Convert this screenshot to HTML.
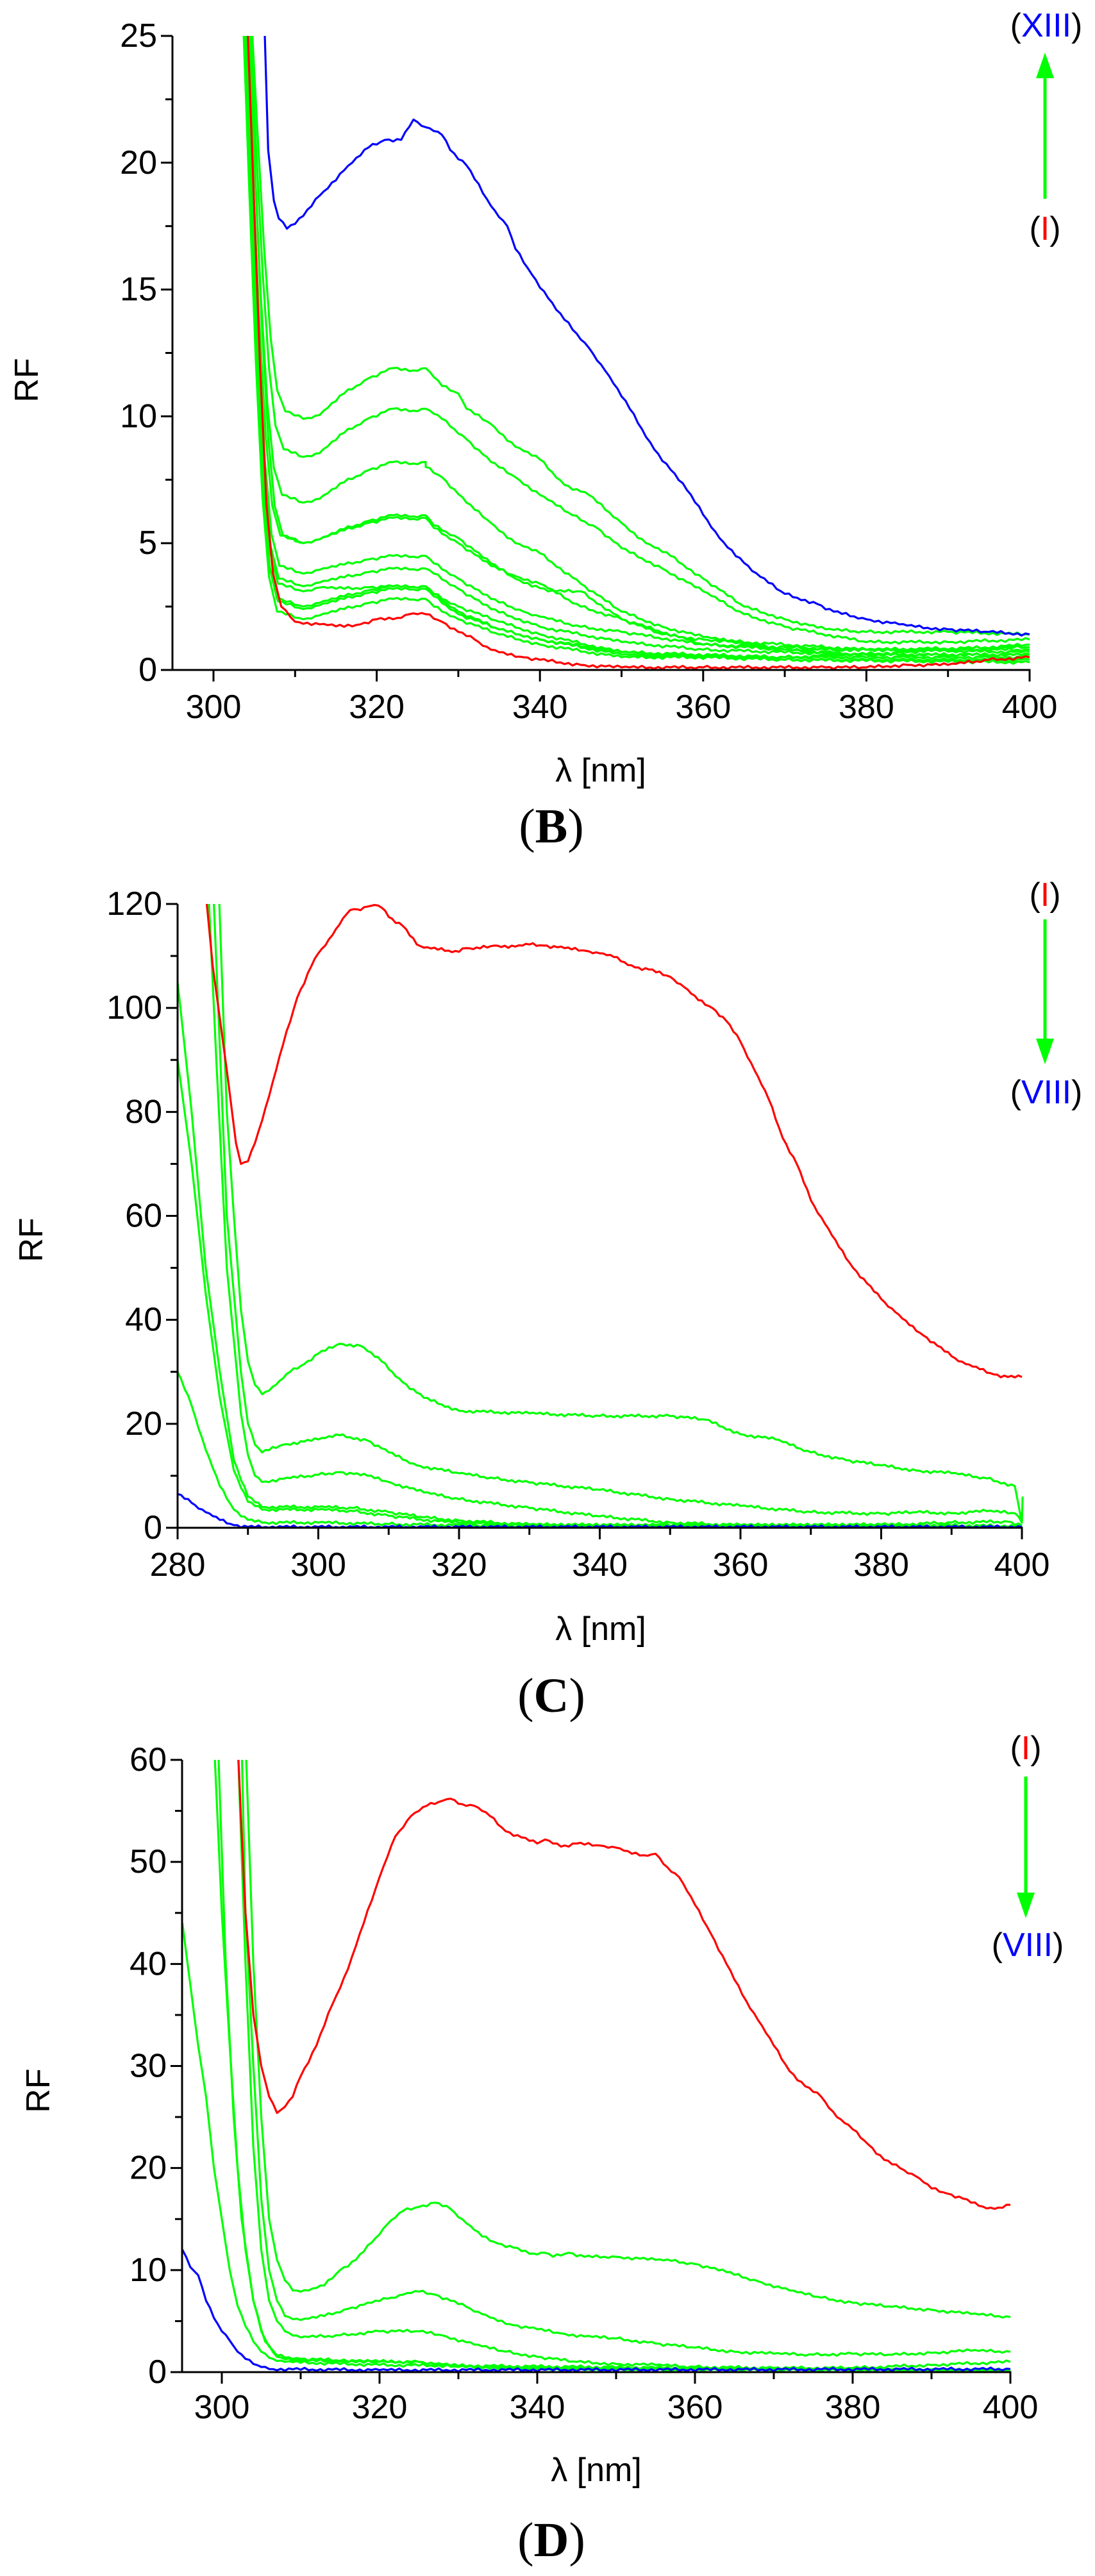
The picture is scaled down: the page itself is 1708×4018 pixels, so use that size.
<!DOCTYPE html>
<html><head><meta charset="utf-8">
<style>
html,body{margin:0;padding:0;background:#fff;}
svg{display:block;}
.s{font-family:"Liberation Sans",Arial,sans-serif;}
.f{font-family:"Liberation Serif","Times New Roman",serif;}
</style></head>
<body>
<svg id="s" width="1708" height="4018" viewBox="0 0 1708 4018" xmlns="http://www.w3.org/2000/svg">
<rect width="1708" height="4018" fill="#fff"/>
<g id="g"></g>
<g class="s" font-size="52" fill="#000">
<text x="42" y="593" transform="rotate(-90 42 593)" text-anchor="middle" dominant-baseline="central">RF</text>
<text x="937" y="1202" text-anchor="middle" dominant-baseline="central">λ [nm]</text>
<text x="1632" y="40" text-anchor="middle" dominant-baseline="central">(<tspan fill="#0000ff">XIII</tspan>)</text>
<text x="1630" y="357" text-anchor="middle" dominant-baseline="central">(<tspan fill="#ff0000">I</tspan>)</text>

<text x="49" y="1934" transform="rotate(-90 49 1934)" text-anchor="middle" dominant-baseline="central">RF</text>
<text x="937" y="2541" text-anchor="middle" dominant-baseline="central">λ [nm]</text>
<text x="1630" y="1396" text-anchor="middle" dominant-baseline="central">(<tspan fill="#ff0000">I</tspan>)</text>
<text x="1632" y="1704" text-anchor="middle" dominant-baseline="central">(<tspan fill="#0000ff">VIII</tspan>)</text>

<text x="60" y="3261" transform="rotate(-90 60 3261)" text-anchor="middle" dominant-baseline="central">RF</text>
<text x="930" y="3853" text-anchor="middle" dominant-baseline="central">λ [nm]</text>
<text x="1600" y="2727" text-anchor="middle" dominant-baseline="central">(<tspan fill="#ff0000">I</tspan>)</text>
<text x="1603" y="3034" text-anchor="middle" dominant-baseline="central">(<tspan fill="#0000ff">VIII</tspan>)</text>
</g>
<g class="f" font-size="76" fill="#000" text-anchor="middle">
<text class="f" x="860" y="1314">(<tspan font-weight="bold">B</tspan>)</text>
<text class="f" x="860" y="2670">(<tspan font-weight="bold">C</tspan>)</text>
<text class="f" x="860" y="3987">(<tspan font-weight="bold">D</tspan>)</text>
</g>
<g stroke="#00ff00" stroke-width="5" fill="#00ff00">
<line x1="1630" y1="310" x2="1630" y2="118"/>
<polygon points="1630,82 1616,122 1644,122" stroke="none"/>
<line x1="1630" y1="1434" x2="1630" y2="1620"/>
<polygon points="1630,1660 1616,1620 1644,1620" stroke="none"/>
<line x1="1600" y1="2771" x2="1600" y2="2952"/>
<polygon points="1600,2992 1586,2952 1614,2952" stroke="none"/>
</g>
</svg>
<script>
var NS="http://www.w3.org/2000/svg",G=document.getElementById('g');
function el(t,a,p){var e=document.createElementNS(NS,t);for(var k in a)e.setAttribute(k,a[k]);(p||G).appendChild(e);return e;}
function txt(x,y,s,anchor){var e=el('text',{x:x,y:y,'class':'s','font-size':52,'text-anchor':anchor,'dominant-baseline':'central',fill:'#000'});e.textContent=s;}
function panel(P){
  var X=function(v){return P.x0+(v-P.xa)*(P.x1-P.x0)/(P.xb-P.xa);};
  var Y=function(v){return P.y0-(v)*(P.y0-P.y1)/P.ymax;};
  var id='c'+P.name;
  var d=el('clipPath',{id:id});el('rect',{x:P.ax,y:P.y1,width:X(P.xb)-P.ax+4,height:P.y0-P.y1},d);
  var g=el('g',{'clip-path':'url(#'+id+')'});
  P.curves.forEach(function(c){
    var pts=[],k=c.p;
    for(var i=0;i<k.length-1;i++){
      var a=k[i],b=k[i+1],n=Math.max(1,Math.round((b[0]-a[0])*2));
      var steep=Math.abs(b[1]-a[1])/(b[0]-a[0])>0.05*P.ymax;
      for(var j=0;j<n;j++){var t=j/n;var v=a[1]+(b[1]-a[1])*t;
        var jit=steep?0:(j%2?1:-1)*0.0025*P.ymax*((i*7+j*3)%5/4);
        pts.push(X(a[0]+(b[0]-a[0])*t).toFixed(1)+','+Y(Math.max(0,v+(j?jit:0))).toFixed(1));}
    }
    var l=k[k.length-1];pts.push(X(l[0]).toFixed(1)+','+Y(l[1]).toFixed(1));
    el('polyline',{points:pts.join(' '),fill:'none',stroke:c.c,'stroke-width':3.2,'stroke-linejoin':'round'},g);
  });
  el('line',{x1:P.ax,y1:P.y1,x2:P.ax,y2:P.y0+1.5,stroke:'#000','stroke-width':3});
  el('line',{x1:P.ax,y1:P.y0,x2:X(P.xb)+1.5,y2:P.y0,stroke:'#000','stroke-width':3});
  for(var v=0;v<=P.ymax+1e-9;v+=P.ym/2){
    var maj=Math.abs(v/P.ym-Math.round(v/P.ym))<1e-6;
    el('line',{x1:P.ax-(maj?18:11),y1:Y(v),x2:P.ax,y2:Y(v),stroke:'#000','stroke-width':3});
    if(maj)txt(P.ax-24,Y(v),String(Math.round(v)),'end');
  }
  for(var v=P.xt0;v<=P.xb;v+=10){
    var maj=(v%20)==0;
    el('line',{x1:X(v),y1:P.y0,x2:X(v),y2:P.y0+(maj?18:11),stroke:'#000','stroke-width':3});
    if(maj)txt(X(v),P.xl,String(v),'middle');
  }
}
var GR='#00ff00',RD='#ff0000',BL='#0000ff';
function bump(s,min,peak,tail){
  var r=26-min;
  return [[s,26],[s+0.8,min+r*0.7],[s+1.6,min+r*0.42],[s+2.4,min+r*0.2],[s+3.2,min+r*0.07],[s+4.2,min+0.3],[Math.max(s+5,311),min],[313,min+0.15],[316,min+(peak-min)*0.5],[319,min+(peak-min)*0.8],[322,peak],[324,peak*0.99],[326,peak]].concat(tail);
}
panel({name:'B',x0:333,x1:1606,xa:300,xb:400,ax:269,y0:1045,y1:56,ymax:25,ym:5,xt0:300,xl:1103,curves:[
 {c:GR,p:bump(304.6,9.9,11.9,[[328,11.2],[330,10.9],[331,10.3],[334,9.7],[337,8.8],[340,8.3],[343,7.3],[346,6.9],[350,5.8],[353,5.0],[356,4.5],[360,3.6],[365,2.5],[370,2.0],[375,1.6],[380,1.5],[390,1.5],[400,1.4]])},
 {c:GR,p:bump(304.4,8.4,10.3,[[328,9.9],[331,9.1],[334,8.2],[337,7.6],[340,6.9],[344,6.1],[347,5.6],[350,4.8],[355,4.0],[360,3.1],[365,2.2],[370,1.7],[380,1.1],[390,1.1],[400,1.2]])},
 {c:GR,p:bump(304.2,6.6,8.2,[[326,8.0],[328,7.6],[331,6.6],[334,5.8],[337,5.0],[340,4.6],[345,3.4],[350,2.3],[355,1.7],[360,1.3],[370,0.8],[380,0.8],[400,0.9]])},
 {c:GR,p:bump(304.0,5.0,6.0,[[327,5.6],[330,5.0],[334,4.1],[337,3.7],[340,3.4],[345,2.5],[350,2.0],[355,1.4],[360,1.2],[380,0.8],[400,0.8]])},
 {c:GR,p:bump(304.3,5.0,6.1,[[327,5.7],[330,5.2],[334,4.2],[337,3.6],[341,3.1],[345,3.1],[350,2.0],[360,1.0],[380,0.6],[400,0.6]])},
 {c:GR,p:bump(303.9,3.8,4.5,[[327,4.2],[330,3.6],[334,2.8],[338,2.3],[340,2.1],[345,1.7],[350,1.5],[360,1.0],[380,0.8],[400,0.7]])},
 {c:GR,p:bump(303.8,3.3,4.0,[[327,3.8],[330,3.2],[334,2.4],[340,1.7],[350,1.1],[360,0.8],[380,0.6],[400,0.6]])},
 {c:GR,p:bump(303.7,3.1,3.3,[[327,3.0],[330,2.5],[335,1.9],[340,1.4],[350,0.7],[370,0.5],[400,0.5]])},
 {c:GR,p:bump(303.6,2.5,3.3,[[327,3.0],[330,2.3],[335,1.6],[340,1.2],[350,0.6],[370,0.4],[400,0.4]])},
 {c:GR,p:bump(303.7,2.4,3.2,[[327,2.9],[330,2.2],[335,1.6],[340,1.2],[350,0.7],[370,0.4],[400,0.3]])},
 {c:GR,p:bump(303.6,2.0,2.8,[[327,2.5],[330,2.0],[335,1.4],[340,1.0],[350,0.5],[370,0.5],[385,0.7],[400,1.0]])},
 {c:RD,p:[[304.1,26],[304.9,19],[305.7,12],[306.5,6.5],[307.3,3.8],[308.3,2.5],[310,1.9],[313,1.8],[316,1.7],[318,1.8],[320,2.0],[322,2.0],[324,2.2],[326,2.2],[328,1.9],[330,1.5],[332,1.2],[334,0.8],[336,0.6],[338,0.5],[340,0.4],[345,0.2],[350,0.1],[360,0.1],[375,0.1],[380,0.1],[385,0.2],[390,0.2],[395,0.4],[400,0.5]]},
 {c:BL,p:[[306.2,26],[306.7,20.5],[307.4,18.5],[308,17.8],[309,17.4],[311,17.9],[313,18.7],[316,19.7],[319,20.6],[321,20.9],[323,20.9],[324.5,21.7],[326,21.4],[328,21.1],[329,20.5],[331,19.9],[334,18.3],[336,17.5],[337,16.6],[339,15.6],[342,14.2],[346,12.7],[348,11.8],[351,10.3],[354,8.7],[358,7.1],[362,5.2],[366,3.9],[370,3.0],[374,2.6],[376,2.3],[380,2.0],[384,1.8],[386,1.7],[390,1.6],[395,1.5],[400,1.4]]}
]});
panel({name:'C',x0:277,x1:1594,xa:280,xb:400,ax:277,y0:2383,y1:1410,ymax:120,ym:20,xt0:280,xl:2441,curves:[
 {c:GR,p:[[285.8,125],[287,80],[288,60],[289,42],[290,32],[291,27.5],[292,25.7],[294,27.5],[296,30],[298,31.5],[300,33.5],[303,35.4],[306,35],[309,32],[312,28],[315,25],[320,22.5],[330,22],[340,21.5],[350,21.5],[355,20.8],[360,18],[365,17],[370,14.5],[375,13],[380,12],[385,11],[390,10.5],[395,9.5],[399,8],[400,1],[400.1,6]]},
 {c:GR,p:[[285,125],[287,60],[289,30],[290,20],[291,16],[292,14.5],[295,16],[300,17],[303,17.8],[307,16.8],[310,14.5],[314,12],[320,10.5],[325,9.5],[330,8.7],[340,7.3],[350,5.5],[360,4.2],[370,3],[380,2.7],[385,3],[390,2.8],[395,3.2],[399,2.8],[400,1]]},
 {c:GR,p:[[284.3,125],[285.5,90],[287,50],[289,22],[290,14],[291,10],[292,8.8],[295,9.4],[300,10.2],[303,10.7],[307,10],[310,8.8],[315,6.8],[320,5.5],[330,3.8],[340,2.2],[350,1],[360,0.5],[380,0.6],[400,0.3]]},
 {c:GR,p:[[280,105],[282,80],[284,50],[286,30],[288,13],[290,6],[292,4],[300,4],[305,3.8],[310,3],[315,2],[320,1.4],[330,0.6],[360,0.4],[400,0.3]]},
 {c:GR,p:[[280,90],[282,70],[284,45],[286,25],[288,11],[290,5],[292,3.5],[300,3.5],[305,3.2],[310,2.3],[318,1.1],[330,0.5],[380,0.5],[390,1],[398,1.2],[400,0.5]]},
 {c:GR,p:[[280,30],[282,23.5],[284,15],[286,8],[288,3.5],[290,1.5],[292,1],[300,1],[310,0.7],[330,0.3],[400,0.2]]},
 {c:RD,p:[[283.8,125],[285,108],[287,88],[288.3,74],[289,70],[290,70.5],[291,74],[293,83],[295,93],[297,102],[299,108],[300,110.5],[302,114],[304,118],[305,119],[306,118.8],[307,119.5],[308,119.8],[309,119.3],[310,117.5],[312,115.8],[314,112.2],[315,111.6],[320,110.8],[321,111.5],[322,111.3],[325,112],[328,111.8],[330,112.2],[332,112],[335,111.5],[338,111],[340,110.5],[342,109.8],[345,107.8],[347,107.4],[350,106],[352,104],[354,101.5],[356,100],[358,97.5],[360,93.5],[362,88],[364,82.5],[366,75],[368,70],[370,63],[372,58.5],[374,54],[376,50],[378,47],[380,44],[382,41.5],[384,39],[386,37],[388,35],[390,33],[392,31.5],[394,30.5],[396,29.5],[398,29],[400,29]]},
 {c:BL,p:[[280,6.5],[282,4.8],[284,3],[286,1.5],[288,0.5],[290,0.15],[400,0.15]]}
]});
panel({name:'D',x0:346,x1:1576,xa:300,xb:400,ax:284,y0:3700,y1:2745,ymax:60,ym:10,xt0:300,xl:3755,curves:[
 {c:GR,p:[[303,62],[304,40],[305,25],[306,15],[307,11],[308,9],[309,8],[311,8],[313,8.5],[315,10],[317,11],[319,12.7],[321,14.5],[323,15.8],[325,16.2],[327,16.6],[329,16],[331,14.6],[333,13.3],[335,12.6],[337,12.2],[339,11.6],[341,11.7],[342,11.3],[344,11.7],[346,11.3],[350,11.3],[355,11],[357,10.9],[360,10.6],[364,9.8],[368,8.9],[372,8],[376,7.3],[380,6.8],[385,6.4],[390,6.1],[395,5.7],[400,5.4]]},
 {c:GR,p:[[302.5,62],[303,45],[304,30],[305,17],[306,10],[307,7],[308,5.5],[310,5.1],[313,5.5],[316,6.2],[319,6.8],[321,7.2],[323,7.6],[325,7.9],[327,7.6],[329,7],[331,6.4],[333,5.7],[335,5],[337,4.6],[340,4.2],[343,3.8],[346,3.5],[350,3.3],[355,2.8],[360,2.4],[365,2],[370,1.8],[375,1.7],[380,1.8],[385,1.7],[390,1.9],[395,2.1],[400,2.0]]},
 {c:GR,p:[[302,62],[303,40],[304,22],[305,12],[306,7],[307,5],[308,4],[310,3.4],[315,3.6],[320,4],[325,4],[328,3.6],[332,2.7],[336,2],[340,1.5],[345,1],[350,0.8],[355,0.7],[360,0.5],[370,0.4],[380,0.4],[390,0.7],[400,1.0]]},
 {c:GR,p:[[299,62],[300,45],[301,32],[302,20],[303,12],[304,7],[305,4],[306,2.5],[307,1.6],[310,1.3],[320,1.0],[325,1.0],[330,0.6],[340,0.3],[360,0.2],[400,0.2]]},
 {c:GR,p:[[299.5,62],[300.5,40],[301.5,25],[302.5,15],[304,7],[305.5,3],[307,1.5],[310,1.1],[315,1.1],[325,1],[330,0.5],[400,0.2]]},
 {c:GR,p:[[295,44],[296,38],[297,32],[298,27],[299,20],[300,15],[301,10],[302,6.5],[303,4.5],[304,3],[305,2],[306,1.4],[308,1],[320,0.7],[400,0.1]]},
 {c:RD,p:[[302,62],[302.5,53],[303,45],[304,35],[305,30],[306,27],[307,25.4],[308,26],[309,27],[310,29],[312,32],[314,36],[316,39.5],[318,44],[320,48.5],[321,50.5],[322,52.5],[324,54.5],[326,55.5],[328,56],[329,56.2],[330,55.7],[332,55.5],[334,54.5],[336,53],[338,52.4],[340,51.8],[341,52.2],[342,51.8],[343,51.5],[345,51.8],[348,51.6],[350,51.4],[352,50.8],[354,50.6],[355,50.8],[356,49.8],[358,48.5],[360,45.8],[362,43],[364,40],[366,37],[368,34.5],[370,32],[372,29.5],[374,28],[376,27],[378,25],[380,23.8],[382,22.3],[384,20.8],[386,20],[388,19.2],[390,18],[392,17.5],[394,17],[396,16.3],[398,16],[399,16.1],[400,16.4]]},
 {c:BL,p:[[295,12],[296,10.3],[297,9.5],[298,7],[299,5.3],[300,4],[301,3.1],[302,2],[303,1.3],[304,0.8],[305,0.5],[306,0.3],[320,0.2],[400,0.3]]}
]});
</script>
</body></html>
